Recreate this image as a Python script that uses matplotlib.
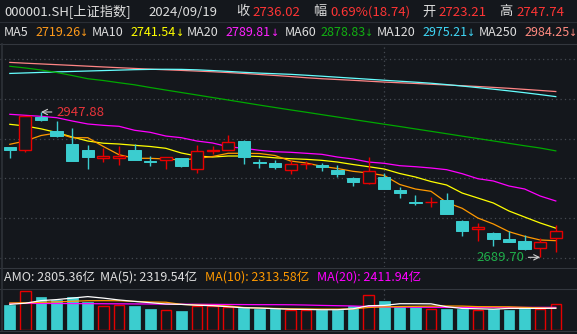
import matplotlib
matplotlib.use("Agg")
import matplotlib.pyplot as plt
import numpy as np

plt.rcParams['font.family'] = ['Noto Sans CJK SC', 'DejaVu Sans']

# Données (000001.SH, 36 séances)
dates = ["2024/07/30", "2024/07/31", "2024/08/01", "2024/08/02", "2024/08/05", "2024/08/06",
         "2024/08/07", "2024/08/08", "2024/08/09", "2024/08/12", "2024/08/13", "2024/08/14",
         "2024/08/15", "2024/08/16", "2024/08/19", "2024/08/20", "2024/08/21", "2024/08/22",
         "2024/08/23", "2024/08/26", "2024/08/27", "2024/08/28", "2024/08/29", "2024/08/30",
         "2024/09/02", "2024/09/03", "2024/09/04", "2024/09/05", "2024/09/06", "2024/09/09",
         "2024/09/10", "2024/09/11", "2024/09/12", "2024/09/13", "2024/09/18", "2024/09/19"]
opens = [2885.7, 2879.5, 2939.5, 2914.1, 2891.0, 2880.4, 2865.6, 2866.7, 2880.4, 2860.6,
         2862.1, 2865.6, 2846.1, 2879.1, 2879.8, 2896.4, 2859.4, 2857.8, 2845.7, 2855.3,
         2853.2, 2844.3, 2830.6, 2821.2, 2832.4, 2809.3, 2787.1, 2787.4, 2791.5, 2754.2,
         2739.5, 2733.4, 2721.7, 2718.7, 2705.7, 2723.21]
highs = [2886.0, 2941.0, 2947.88, 2931.9, 2918.9, 2889.2, 2884.4, 2887.5, 2890.5, 2869.7,
         2867.9, 2866.7, 2889.2, 2888.0, 2907.0, 2898.1, 2864.4, 2862.6, 2862.6, 2860.8,
         2856.7, 2853.7, 2832.9, 2867.4, 2839.0, 2814.1, 2800.4, 2797.4, 2804.5, 2756.0,
         2751.2, 2733.8, 2736.4, 2729.3, 2723.5, 2747.74]
lows = [2867.0, 2877.5, 2931.4, 2904.0, 2860.3, 2846.6, 2859.0, 2853.2, 2862.0, 2852.5,
        2847.1, 2850.5, 2840.0, 2873.8, 2879.5, 2856.0, 2848.9, 2846.6, 2838.3, 2846.1,
        2843.6, 2832.9, 2816.9, 2819.4, 2811.0, 2795.6, 2783.2, 2778.6, 2766.5, 2728.1,
        2718.7, 2710.3, 2717.0, 2703.2, 2689.70, 2698.6]
closes = [2880.4, 2940.0, 2933.0, 2906.0, 2860.8, 2867.5, 2870.0, 2870.0, 2862.6, 2858.5,
          2867.6, 2851.5, 2877.8, 2879.6, 2894.0, 2867.5, 2857.5, 2849.5, 2855.0, 2855.8,
          2849.5, 2838.0, 2823.8, 2842.5, 2811.5, 2803.5, 2785.5, 2788.2, 2766.5, 2737.0,
          2743.8, 2722.5, 2717.3, 2704.3, 2716.9, 2736.02]
ma5 = [2890.5, 2896.4, 2906.1, 2910.6, 2902.2, 2902.2, 2886.6, 2872.0, 2865.6, 2865.6,
       2864.4, 2862.6, 2865.3, 2868.8, 2874.5, 2874.5, 2874.1, 2870.6, 2860.8, 2857.3,
       2851.4, 2847.5, 2842.5, 2839.5, 2835.1, 2819.1, 2811.1, 2807.0, 2787.1, 2776.8,
       2759.6, 2748.9, 2735.2, 2727.0, 2720.5, 2719.26]
ma10 = [2926.0, 2923.0, 2918.0, 2911.5, 2903.5, 2896.3, 2892.4, 2891.0, 2888.7, 2886.6,
        2883.4, 2875.0, 2869.7, 2867.9, 2869.7, 2869.7, 2868.8, 2866.5, 2864.9, 2863.8,
        2862.0, 2859.0, 2854.6, 2850.7, 2846.6, 2838.6, 2832.4, 2824.4, 2818.2, 2803.9,
        2795.1, 2786.2, 2772.0, 2761.3, 2750.7, 2741.54]
ma20 = [2943.8, 2942.0, 2940.2, 2937.8, 2931.9, 2926.6, 2924.2, 2922.5, 2915.4, 2911.8,
        2905.2, 2902.2, 2896.3, 2892.8, 2886.2, 2883.4, 2879.8, 2877.3, 2876.3, 2874.5,
        2872.7, 2867.9, 2864.4, 2859.0, 2856.7, 2852.5, 2850.7, 2848.4, 2845.4, 2838.3,
        2829.4, 2825.3, 2816.4, 2811.1, 2798.6, 2789.81]
ma60 = [3029.1, 3026.1, 3022.5, 3018.1, 3012.7, 3007.0, 3003.8, 2999.9, 2996.2, 2991.4,
        2986.9, 2982.5, 2978.1, 2973.6, 2969.2, 2964.7, 2960.2, 2955.9, 2951.6, 2947.5,
        2943.2, 2939.0, 2934.6, 2930.4, 2926.2, 2922.1, 2917.8, 2913.6, 2909.3, 2905.0,
        2900.7, 2896.5, 2892.2, 2887.9, 2883.9, 2878.83]
ma120 = [3016.4, 3017.3, 3018.2, 3019.1, 3019.9, 3020.7, 3021.5, 3022.3, 3023.1, 3023.6,
         3023.8, 3023.6, 3022.8, 3021.5, 3020.0, 3018.4, 3017.0, 3015.9, 3014.8, 3013.2,
         3011.5, 3009.7, 3007.9, 3006.1, 3004.3, 3002.6, 3000.9, 2999.0, 2996.6, 2994.0,
         2991.2, 2988.4, 2985.4, 2982.2, 2978.8, 2975.21]
ma250 = [3036.0, 3034.6, 3033.3, 3032.0, 3030.7, 3029.3, 3027.9, 3026.6, 3025.3, 3024.0,
         3022.9, 3021.8, 3020.6, 3019.4, 3018.0, 3016.4, 3014.6, 3012.8, 3010.9, 3008.8,
         3007.0, 3005.6, 3004.2, 3002.6, 3001.1, 2999.8, 2998.6, 2997.2, 2995.9, 2994.6,
         2993.2, 2991.6, 2990.0, 2988.1, 2986.2, 2984.25]

# Montant (亿)
amounts = [2697, 4208, 3485, 3237, 3561, 2946, 2590, 2697, 2514, 2190,
           2158, 2050, 2590, 2514, 2406, 2341, 2190, 2190, 2158, 2158,
           2126, 2126, 2557, 3776, 3129, 2406, 2406, 2250, 2215, 2240,
           2180, 2205, 2170, 2230, 2200, 2805.36]
amo_ma5 = [2730, 2860, 3130, 3240, 3400, 3560, 3400, 3200, 3050, 2910,
           2770, 2730, 2640, 2590, 2480, 2370, 2340, 2270, 2210, 2190,
           2160, 2160, 2260, 2590, 2620, 2800, 2800, 2790, 2480, 2300,
           2260, 2220, 2300, 2300, 2300, 2319.54]
amo_ma10 = [2880, 2900, 2950, 3000, 3060, 3120, 3130, 3120, 3050, 2990,
            2960, 2730, 2660, 2620, 2560, 2400, 2340, 2300, 2260, 2240,
            2230, 2230, 2250, 2400, 2470, 2500, 2520, 2540, 2560, 2550,
            2490, 2480, 2470, 2410, 2360, 2313.58]
amo_ma20 = [2840, 2835, 2830, 2825, 2820, 2810, 2800, 2790, 2780, 2770,
            2760, 2750, 2740, 2730, 2720, 2710, 2700, 2700, 2690, 2660,
            2620, 2590, 2560, 2500, 2460, 2440, 2430, 2420, 2415, 2410,
            2405, 2405, 2408, 2410, 2412, 2411.94]

code_name = "000001.SH[上证指数]"
chg_pct = 0.69
chg_pts = 18.74

# Couleurs
BG = "#14171c"
LINE = "#33373e"
GRID = "#454a52"
WHITE = "#dedede"
RED = "#e60000"
RED_TXT = "#ff3535"
CYAN = "#3bcdcf"
C_MA5 = "#ff9900"
C_MA10 = "#ffff00"
C_MA20 = "#ff00ff"
C_MA60 = "#00a800"
C_MA120 = "#66ffff"
C_MA250 = "#ff8585"

W, H = 577, 334

def fx(px):
    return px / W

def fy(py):
    return 1 - py / H

fig = plt.figure(figsize=(W / 100, H / 100), dpi=100, facecolor=BG)

# Axes principal (cours) et axe du montant
ax = fig.add_axes([0, fy(267), 1, (267 - 44) / H])
axv = fig.add_axes([0, fy(330), 1, (330 - 289) / H])
for a in (ax, axv):
    a.set_facecolor(BG)
    a.axis("off")

x = np.arange(len(closes))
o = np.array(opens)
h = np.array(highs)
l = np.array(lows)
c = np.array(closes)
up = c >= o
body_lo = np.minimum(o, c)
body_hi = np.maximum(o, c)

XMIN, XMAX = -0.628, 36.36
ax.set_xlim(XMIN, XMAX)
ax.set_ylim(2672.5, 3068.7)
axv.set_xlim(XMIN, XMAX)
axv.set_ylim(0, 4370)

# grille pointillée
for lev in np.linspace(2689.0, 3041.5, 6):
    ax.axhline(lev, color=GRID, lw=0.9, ls=(0, (1, 2.5)), zorder=0)
month_idx = dates.index("2024/09/02")
for a in (ax, axv):
    a.axvline(month_idx, color=GRID, lw=0.9, ls=(0, (1, 2.5)), zorder=0)

# moyennes mobiles
for ma, col in [(ma250, C_MA250), (ma120, C_MA120), (ma60, C_MA60),
                (ma20, C_MA20), (ma10, C_MA10), (ma5, C_MA5)]:
    ax.plot(x, ma, color=col, lw=0.9, zorder=2)

# bougies
for i in x:
    col = RED if up[i] else CYAN
    ax.vlines(i, body_hi[i], h[i], color=col, lw=1.0, zorder=3)
    ax.vlines(i, l[i], body_lo[i], color=col, lw=1.0, zorder=3)
ax.bar(x[~up], (body_hi - body_lo)[~up], bottom=body_lo[~up], width=0.8,
       color=CYAN, edgecolor=CYAN, lw=0.7, zorder=4)
ax.bar(x[up], (body_hi - body_lo)[up], bottom=body_lo[up], width=0.76,
       facecolor=BG, edgecolor=RED, lw=1.0, zorder=4)

# plus haut / plus bas
i_hi = int(np.argmax(h))
i_lo = int(np.argmin(l))
ax.annotate(f"{h[i_hi]:.2f}", xy=(i_hi, h[i_hi]), xytext=(15, 0), textcoords="offset pixels",
            ha="left", va="center", color="#e8343a", fontsize=9.5,
            arrowprops=dict(arrowstyle="->", color="#cfcfcf", lw=0.8, shrinkA=1, shrinkB=0),
            zorder=6)
ax.annotate(f"{l[i_lo]:.2f}", xy=(i_lo, l[i_lo]), xytext=(-16, 0), textcoords="offset pixels",
            ha="right", va="center", color="#1fae4a", fontsize=9.5,
            arrowprops=dict(arrowstyle="->", color="#cfcfcf", lw=0.8, shrinkA=1, shrinkB=0),
            zorder=6)

# montants
amt = np.array(amounts)
axv.bar(x[~up], amt[~up], width=0.7, color=CYAN, edgecolor=CYAN, lw=0.5, zorder=2)
axv.bar(x[up], amt[up], width=0.66, facecolor=BG, edgecolor=RED, lw=1.0, zorder=2)
axv.plot(x, amo_ma20, color=C_MA20, lw=0.9, zorder=3)
axv.plot(x, amo_ma10, color=C_MA5, lw=0.9, zorder=3)
axv.plot(x, amo_ma5, color="#ffffff", lw=0.9, zorder=3)

# séparateurs
for py, col in [(21.7, "#2a2e35"), (43.5, LINE), (267.8, LINE), (289.3, LINE), (330.5, LINE)]:
    fig.add_artist(plt.Line2D([0, 1], [fy(py), fy(py)], color=col, lw=0.8))
fig.add_artist(plt.Line2D([fx(1.5), fx(1.5)], [fy(44), fy(330)], color="#2e3238", lw=1.2))

# en-tête ligne 1
FS = 9.5
y1 = 12
fig.text(fx(4), fy(y1), code_name, color=WHITE, fontsize=FS, va="center")
fig.text(fx(148), fy(y1), dates[-1], color=WHITE, fontsize=FS, va="center")
fig.text(fx(236), fy(y1), "收", color=WHITE, fontsize=FS, va="center")
fig.text(fx(252), fy(y1), f"{closes[-1]:.2f}", color=RED_TXT, fontsize=FS, va="center")
fig.text(fx(313), fy(y1), "幅", color=WHITE, fontsize=FS, va="center")
fig.text(fx(330), fy(y1), f"{chg_pct:.2f}%({chg_pts:.2f})", color=RED_TXT, fontsize=FS, va="center")
fig.text(fx(422), fy(y1), "开", color=WHITE, fontsize=FS, va="center")
fig.text(fx(438), fy(y1), f"{opens[-1]:.2f}", color=RED_TXT, fontsize=FS, va="center")
fig.text(fx(499), fy(y1), "高", color=WHITE, fontsize=FS, va="center")
fig.text(fx(516), fy(y1), f"{highs[-1]:.2f}", color=RED_TXT, fontsize=FS, va="center")

# en-tête ligne 2 (moyennes)
y2 = 32.5
FS_MA = 9
ma_head = [("MA5", ma5, "#ff9a1a", 4, 35, 80),
           ("MA10", ma10, "#ffff00", 92, 130, 176),
           ("MA20", ma20, "#ff22ff", 187, 225, 271),
           ("MA60", ma60, "#12b012", 285, 320, 365),
           ("MA120", ma120, "#3fd6f5", 377, 422, 467),
           ("MA250", ma250, "#ff8a80", 479, 524, 569)]
for name, ma, col, xl, xv, xa in ma_head:
    fig.text(fx(xl), fy(y2), name, color=WHITE, fontsize=FS_MA, va="center")
    fig.text(fx(xv), fy(y2), f"{ma[-1]:.2f}", color=col, fontsize=FS_MA, va="center")
    fig.text(fx(xa), fy(y2), "↓", color=col, fontsize=7, va="center", family="DejaVu Sans")

# ligne AMO
y3 = 277.5
FS2 = 9
fig.text(fx(4), fy(y3), f"AMO: {amounts[-1]:.2f}亿", color=WHITE, fontsize=FS2, va="center")
fig.text(fx(100), fy(y3), f"MA(5): {amo_ma5[-1]:.2f}亿", color=WHITE, fontsize=FS2, va="center")
fig.text(fx(205), fy(y3), f"MA(10): {amo_ma10[-1]:.2f}亿", color=C_MA5, fontsize=FS2, va="center")
fig.text(fx(317), fy(y3), f"MA(20): {amo_ma20[-1]:.2f}亿", color=C_MA20, fontsize=FS2, va="center")

fig.savefig("out.png", dpi=100, facecolor=BG)
